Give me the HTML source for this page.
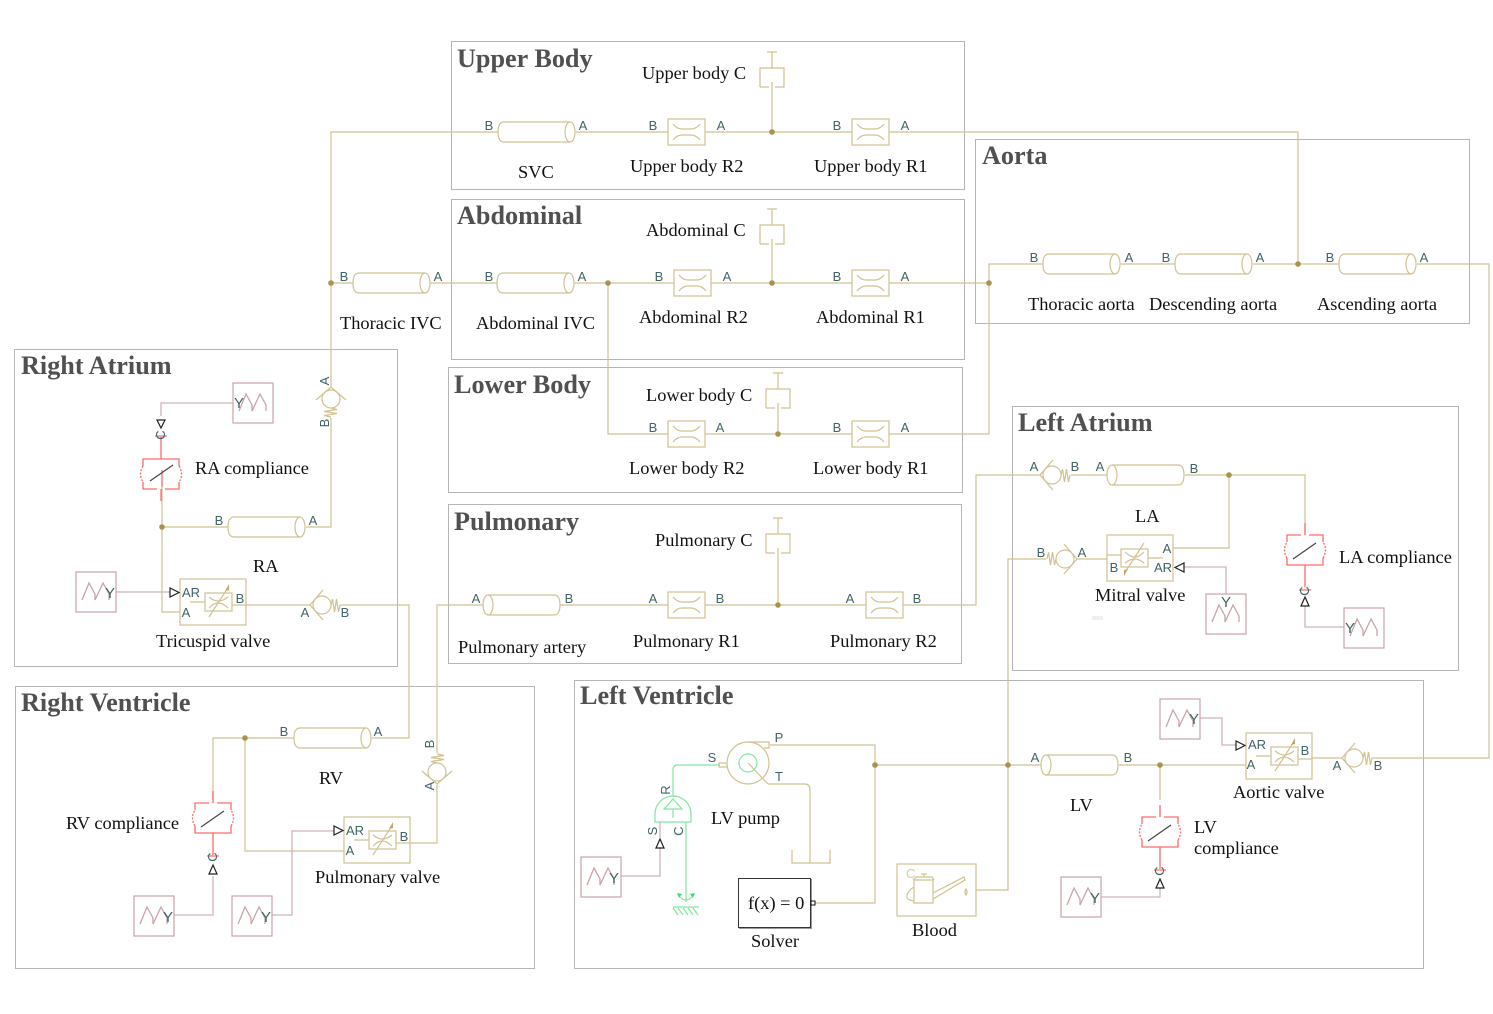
<!DOCTYPE html>
<html><head><meta charset="utf-8"><style>
html,body{margin:0;padding:0;background:#fff}
svg{display:block}
.t{font:18.4px "Liberation Serif",serif;fill:#111}
.h{font:bold 26.2px "Liberation Serif",serif;fill:#505050}
.p{font:13px "Liberation Sans",sans-serif;fill:#3f6366;text-anchor:middle}
.y{font:15px "Liberation Sans",sans-serif;fill:#3f6366;text-anchor:middle}
.b{fill:#fff;stroke:#b5b5b5;stroke-width:1}
.w{fill:none;stroke:#d0c291;stroke-width:1.2}
.s{fill:none;stroke:#cfb4b7;stroke-width:1.3}
.g{fill:none;stroke:#7fe8a0;stroke-width:1.2}
.r{fill:none;stroke:#ff6a6a;stroke-width:1.3}
.k{fill:none;stroke:#222;stroke-width:1.2}
</style></head><body>
<svg width="1493" height="1014" viewBox="0 0 1493 1014" xmlns="http://www.w3.org/2000/svg">
<defs>
<g id="pipeR"><path class="w" d="M72 -10H6Q0 -10 0 0Q0 10 6 10H72"/><ellipse class="w" cx="72" cy="0" rx="5" ry="10"/></g>
<g id="pipeL"><path class="w" d="M5 -10H71Q77 -10 77 0Q77 10 71 10H5"/><ellipse class="w" cx="5" cy="0" rx="5" ry="10"/></g>
<g id="res"><rect class="w" style="fill:#fff" x="0" y="-13" width="37" height="26"/><path class="w" d="M5 -8Q9 -3 14 -3H23Q28 -3 32 -8M5 8Q9 3 14 3H23Q28 3 32 8"/></g>
<g id="cap"><path d="M-12 19V0H12V19H3M-12 19H-3M0 0V-16M-5 -16H5M0 14V40" class="w"/></g>
<g id="check"><path class="w" d="M13 -15L0 0L13 15M21 0l1.500 -6l2 13l2 -13l2 13l1.500 -7"/><circle class="w" style="fill:#fff" cx="12" cy="0" r="9"/></g>
<g id="valve"><rect class="w" style="fill:#fff" x="0" y="0" width="66" height="46"/><rect class="w" x="25" y="14" width="27" height="18"/><path class="w" d="M10 23H25M52 26H66M29 18Q34 22 38 22Q43 22 48 18M29 29Q34 24 38 24Q43 24 48 29M29 38L49 7"/><path d="M49 5L45 12L49 11Z" fill="#bda868"/></g>
<g id="comp"><path class="r" d="M-18 7V0H18V7M-18 23V30H-4M4 30H18V23M0 -22V0M0 30V42"/><path class="r" stroke-dasharray="2 1.500" d="M-18 7Q-23 15 -18 23M18 7Q23 15 18 23"/><path class="k" style="stroke:#444" d="M-11 22L12 6"/></g>
<g id="tipD"><path class="k" d="M-4 -4H4L0 4Z"/></g>
<g id="src"><rect x="0" y="0" width="40" height="40" fill="#fff" stroke="#c9a3a8" stroke-width="1.200"/><path class="s" style="stroke:#c9a3a8" d="M6 28L13 11L19 22V28L27 11L33 22V28"/></g>
<circle id="d" r="2.800" fill="#a8924e"/>
</defs>

<rect width="1493" height="1014" fill="#fff"/>
<!-- subsystem frames -->
<rect class="b" x="451.500" y="41.500" width="513" height="148"/>
<rect class="b" x="975.500" y="139.500" width="494" height="184"/>
<rect class="b" x="451.500" y="199.500" width="513" height="160"/>
<rect class="b" x="448.500" y="367.500" width="514" height="125"/>
<rect class="b" x="448.500" y="504.500" width="513" height="159"/>
<rect class="b" x="14.500" y="349.500" width="383" height="317"/>
<rect class="b" x="1012.500" y="406.500" width="446" height="264"/>
<rect class="b" x="15.500" y="686.500" width="519" height="282"/>
<rect class="b" x="574.500" y="680.500" width="849" height="288"/>
<rect x="1092" y="616" width="11" height="4" fill="#eee"/>

<!-- wires -->
<path class="w" d="M331 387V132H498M576 132H668M705 132H852M889 132H1298V264"/>
<path class="w" d="M331 283H353M431 283H497M575 283H674M711 283H852M889 283H989"/>
<path class="w" d="M1043 264H989V434H889M852 434H705M668 434H608V283"/>
<path class="w" d="M1121 264H1175M1253 264H1339M1417 264H1489V758H1372M1312 758H1342"/>
<path class="w" d="M331 418V527H306M228 527H162V612H180M162 487V527M246 605H310M340 605H409V738H372M294 738H213V803M245 738V851H344"/>
<path class="w" d="M410 843H437V784M437 753V605H483M560 605H668M705 605H866M903 605H976V475H1040M1071 475H1107M1185 475H1305V535"/>
<path class="w" d="M1229 475V548H1173M1122 559H1077M1046 559H1008V890H976M875 765H1041M1119 765H1246M1160 765V800"/>
<path class="w" d="M770 745H875V903H815M768 784H805Q810 784 810 790V863M792 850V863H830V850"/>
<path class="r" d="M162 470V487"/>

<!-- signal wires -->
<path class="s" d="M233 403H161V416M116 592H170M213 876V915H174M272 915H292V831H334M621 876H660V848M1101 897H1160V888M1200 718H1222V745H1236M1184 567H1226V594M1305 606V627H1344"/>

<!-- pipes -->
<use href="#pipeR" x="498" y="132"/><use href="#pipeR" x="353" y="283"/><use href="#pipeR" x="497" y="283"/>
<use href="#pipeR" x="1043" y="264"/><use href="#pipeR" x="1175" y="264"/><use href="#pipeR" x="1339" y="264"/>
<use href="#pipeR" x="228" y="527"/><use href="#pipeR" x="294" y="738"/>
<use href="#pipeL" x="483" y="605"/><use href="#pipeL" x="1107" y="475"/><use href="#pipeL" x="1041" y="765"/>

<!-- restrictions -->
<use href="#res" x="668" y="132"/><use href="#res" x="852" y="132"/>
<use href="#res" x="674" y="283"/><use href="#res" x="852" y="283"/>
<use href="#res" x="668" y="434"/><use href="#res" x="852" y="434"/>
<use href="#res" x="668" y="605"/><use href="#res" x="866" y="605"/>

<!-- capacitors -->
<use href="#cap" x="772" y="68"/><use href="#cap" x="772" y="225"/><use href="#cap" x="778" y="389"/><use href="#cap" x="778" y="534"/>
<path class="w" d="M772 108V132M772 265V283M778 429V434M778 574V605"/>

<!-- check valves -->
<use href="#check" x="310" y="605"/>
<use href="#check" transform="translate(331 387) rotate(90)"/>
<use href="#check" transform="translate(437 784) rotate(-90)"/>
<use href="#check" x="1040" y="475"/>
<use href="#check" transform="translate(1077 559) rotate(180)"/>
<use href="#check" x="1342" y="758"/>

<!-- variable valves -->
<use href="#valve" x="180" y="579"/>
<use href="#valve" x="344" y="817"/>
<use href="#valve" x="1246" y="733"/>
<use href="#valve" transform="translate(1173 581) rotate(180)"/>

<!-- compliances -->
<use href="#comp" x="161" y="459"/>
<use href="#comp" transform="translate(213 833) rotate(180)"/>
<use href="#comp" transform="translate(1160 847) rotate(180)"/>
<use href="#comp" transform="translate(1305 565) rotate(180)"/>

<!-- C port marks + triangles -->
<path class="r" d="M155 436H167M207 856H219M1154 870H1166M1299 590H1311"/>
<use href="#tipD" x="161" y="424"/>
<path class="k" d="M209 874H217L213 865ZM656 848H664L660 839ZM1156 888H1164L1160 879ZM1301 606H1309L1305 597Z"/>
<path class="k" d="M170 588V597L179 592.500ZM334 826V835L343 830.500ZM1236 741V750L1245 745.500ZM1184 563V572L1175 567.500Z"/>

<!-- source blocks -->
<use href="#src" x="233" y="383"/>
<use href="#src" x="76" y="572"/>
<use href="#src" x="134" y="896"/>
<use href="#src" x="232" y="896"/>
<use href="#src" x="581" y="857"/>
<use href="#src" x="1061" y="877"/>
<use href="#src" x="1160" y="699"/>
<use href="#src" x="1206" y="594"/>
<use href="#src" x="1344" y="608"/>

<!-- pump -->
<path class="g" d="M720 765H678Q673 765 673 770V796"/>
<rect class="w" x="719" y="763" width="8" height="4"/>
<circle class="w" style="fill:#fff" cx="748" cy="763" r="21"/>
<path class="w" d="M748 742H769V748H764M748 763L768 784"/>
<circle class="g" cx="748" cy="763" r="9"/>
<path class="g" d="M655 822V814A18 18 0 0 1 691 814V822ZM664 809L673 799L682 809ZM673 809V818M686 822V902"/>
<path class="s" d="M660 822V838"/>
<path class="g" d="M680 897Q686 903 692 897M673 907H699M673 908l5 7M678 908l5 7M683 908l5 7M688 908l5 7M693 908l5 7"/>
<path d="M677 893l5 1l-3 4ZM695 893l-5 1l3 4Z" fill="#3fdc72"/>

<!-- solver -->
<rect x="739" y="879" width="73" height="50" fill="#999"/>
<rect x="738.500" y="878.500" width="72" height="49" fill="#fff" stroke="#333" stroke-width="1"/>
<rect x="811" y="901" width="4" height="4" fill="#fff" stroke="#111"/>

<!-- blood -->
<rect class="w" style="fill:#fff" x="897" y="864" width="79" height="52"/>
<path class="w" d="M914 880H933V903H914ZM913 880L916 877H932L934 880M924 877V874M921 874H927M914 887Q906 892 907 898Q908 900 914 901M933 893L964 877L965 880L933 899"/>
<path class="w" d="M966 889Q968 892 966 895Q964 892 966 889Z"/>

<!-- junction dots -->
<use href="#d" x="772" y="132"/><use href="#d" x="331" y="283"/><use href="#d" x="608" y="283"/><use href="#d" x="772" y="283"/><use href="#d" x="989" y="283"/>
<use href="#d" x="1298" y="264"/><use href="#d" x="778" y="434"/><use href="#d" x="778" y="605"/>
<use href="#d" x="162" y="527"/><use href="#d" x="245" y="738"/><use href="#d" x="1229" y="475"/>
<use href="#d" x="875" y="765"/><use href="#d" x="1008" y="765"/><use href="#d" x="1160" y="765"/>

<!-- titles -->
<text class="h" x="457" y="67">Upper Body</text>
<text class="h" x="982" y="164">Aorta</text>
<text class="h" x="457" y="224">Abdominal</text>
<text class="h" x="454" y="393">Lower Body</text>
<text class="h" x="454" y="530">Pulmonary</text>
<text class="h" x="21" y="374">Right Atrium</text>
<text class="h" x="1018" y="431">Left Atrium</text>
<text class="h" x="21" y="711">Right Ventricle</text>
<text class="h" x="580" y="704">Left Ventricle</text>

<!-- block labels -->
<text class="t" x="642" y="79">Upper body C</text>
<text class="t" x="518" y="178">SVC</text>
<text class="t" x="630" y="172">Upper body R2</text>
<text class="t" x="814" y="172">Upper body R1</text>
<text class="t" x="646" y="236">Abdominal C</text>
<text class="t" x="340" y="329">Thoracic IVC</text>
<text class="t" x="476" y="329">Abdominal IVC</text>
<text class="t" x="639" y="323">Abdominal R2</text>
<text class="t" x="816" y="323">Abdominal R1</text>
<text class="t" x="646" y="401">Lower body C</text>
<text class="t" x="629" y="474">Lower body R2</text>
<text class="t" x="813" y="474">Lower body R1</text>
<text class="t" x="655" y="546">Pulmonary C</text>
<text class="t" x="458" y="653">Pulmonary artery</text>
<text class="t" x="633" y="647">Pulmonary R1</text>
<text class="t" x="830" y="647">Pulmonary R2</text>
<text class="t" x="195" y="474">RA compliance</text>
<text class="t" x="253" y="572">RA</text>
<text class="t" x="156" y="647">Tricuspid valve</text>
<text class="t" x="1028" y="310">Thoracic aorta</text>
<text class="t" x="1149" y="310">Descending aorta</text>
<text class="t" x="1317" y="310">Ascending aorta</text>
<text class="t" x="1135" y="522">LA</text>
<text class="t" x="1095" y="601">Mitral valve</text>
<text class="t" x="1339" y="563">LA compliance</text>
<text class="t" x="319" y="784">RV</text>
<text class="t" x="66" y="829">RV compliance</text>
<text class="t" x="315" y="883">Pulmonary valve</text>
<text class="t" x="711" y="824">LV pump</text>
<text class="t" x="748" y="909">f(x) = 0</text>
<text class="t" x="751" y="947">Solver</text>
<text class="t" x="912" y="936">Blood</text>
<text class="t" x="1070" y="811">LV</text>
<text class="t" x="1194" y="833">LV</text>
<text class="t" x="1194" y="854">compliance</text>
<text class="t" x="1233" y="798">Aortic valve</text>

<!-- port labels -->
<text class="p" x="489" y="130">B</text><text class="p" x="583" y="130">A</text><text class="p" x="653" y="130">B</text><text class="p" x="721" y="130">A</text><text class="p" x="837" y="130">B</text><text class="p" x="905" y="130">A</text>
<text class="p" x="344" y="281">B</text><text class="p" x="438" y="281">A</text><text class="p" x="489" y="281">B</text><text class="p" x="582" y="281">A</text><text class="p" x="659" y="281">B</text><text class="p" x="727" y="281">A</text><text class="p" x="837" y="281">B</text><text class="p" x="905" y="281">A</text>
<text class="p" x="1034" y="262">B</text><text class="p" x="1129" y="262">A</text><text class="p" x="1166" y="262">B</text><text class="p" x="1260" y="262">A</text><text class="p" x="1330" y="262">B</text><text class="p" x="1424" y="262">A</text>
<text class="p" x="653" y="432">B</text><text class="p" x="720" y="432">A</text><text class="p" x="837" y="432">B</text><text class="p" x="905" y="432">A</text>
<text class="p" x="476" y="603">A</text><text class="p" x="569" y="603">B</text><text class="p" x="653" y="603">A</text><text class="p" x="720" y="603">B</text><text class="p" x="850" y="603">A</text><text class="p" x="917" y="603">B</text>
<text class="p" x="219" y="525">B</text><text class="p" x="313" y="525">A</text>
<text class="p" x="191" y="597">AR</text><text class="p" x="186" y="617">A</text><text class="p" x="240" y="603">B</text><text class="p" x="305" y="617">A</text><text class="p" x="345" y="617">B</text>
<text class="p" transform="translate(329 381) rotate(-90)">A</text><text class="p" transform="translate(329 423) rotate(-90)">B</text>
<text class="p" transform="translate(165 435) rotate(-90)">C</text>
<text class="p" x="284" y="736">B</text><text class="p" x="378" y="736">A</text>
<text class="p" x="355" y="835">AR</text><text class="p" x="350" y="855">A</text><text class="p" x="404" y="841">B</text>
<text class="p" transform="translate(434 744) rotate(-90)">B</text><text class="p" transform="translate(434 786) rotate(-90)">A</text>
<text class="p" transform="translate(217 857) rotate(-90)">C</text>
<text class="p" x="1034" y="471">A</text><text class="p" x="1075" y="471">B</text><text class="p" x="1100" y="471">A</text><text class="p" x="1194" y="473">B</text>
<text class="p" x="1041" y="557">B</text><text class="p" x="1082" y="557">A</text><text class="p" x="1167" y="553">A</text><text class="p" x="1163" y="572">AR</text><text class="p" x="1114" y="572">B</text>
<text class="p" x="1035" y="762">A</text><text class="p" x="1128" y="762">B</text>
<text class="p" x="1257" y="749">AR</text><text class="p" x="1251" y="769">A</text><text class="p" x="1305" y="755">B</text><text class="p" x="1337" y="770">A</text><text class="p" x="1378" y="770">B</text>
<text class="p" transform="translate(1164 871) rotate(-90)">C</text><text class="p" transform="translate(1309 591) rotate(-90)">C</text>
<text class="p" x="779" y="742">P</text><text class="p" x="779" y="781">T</text><text class="p" x="712" y="762">S</text>
<text class="p" transform="translate(670 790) rotate(-90)">R</text><text class="p" transform="translate(657 831) rotate(-90)">S</text><text class="p" transform="translate(683 831) rotate(-90)">C</text>
<text class="y" x="239" y="408">Y</text><text class="y" x="110" y="598">Y</text><text class="y" x="168" y="922">Y</text><text class="y" x="266" y="922">Y</text><text class="y" x="614" y="883">Y</text><text class="y" x="1095" y="903">Y</text><text class="y" x="1194" y="724">Y</text><text class="y" x="1226" y="607">Y</text><text class="y" x="1350" y="633">Y</text>
<text x="906" y="878" style="font:13px 'Liberation Sans',sans-serif;fill:#d8cba0">C</text>
</svg>
</body></html>
